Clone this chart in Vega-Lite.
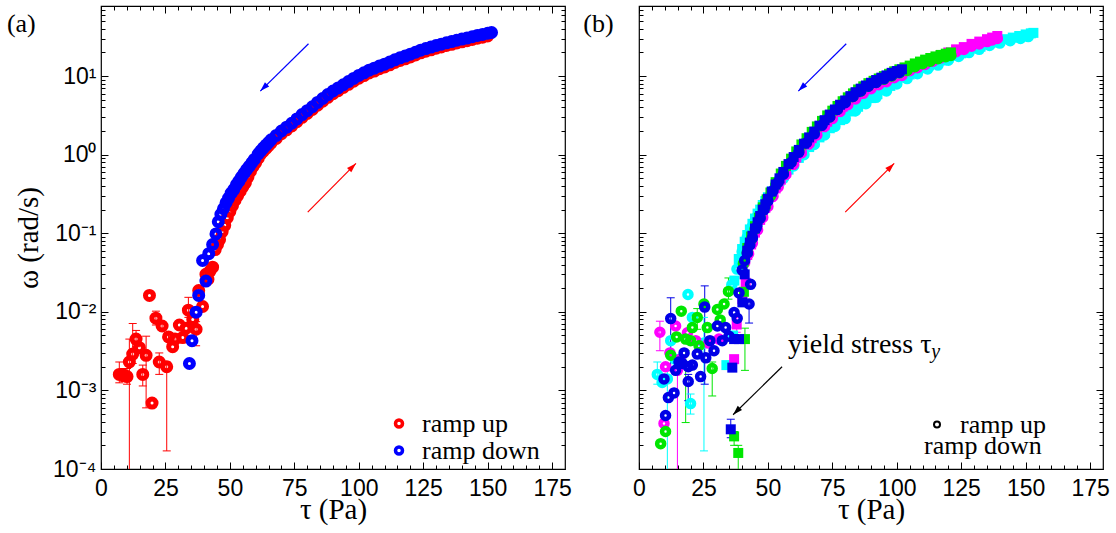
{
"$schema": "https://vega.github.io/schema/vega-lite/v6.json",
"background": "white",
"padding": {"left": 6, "top": 4, "right": 5, "bottom": 5},
"config": {
  "view": {"stroke": "black", "strokeWidth": 1.2},
  "axis": {"domain": false, "grid": false, "tickColor": "black", "tickWidth": 1, "labelFont": "Liberation Sans", "labelFontSize": 23, "labelColor": "black", "labelFlush": false, "labelOverlap": false, "titleFont": "Liberation Serif", "titleFontSize": 29, "titleFontWeight": "normal", "titleColor": "black"},
  "legend": {"labelFont": "Liberation Serif", "labelFontSize": 26, "labelColor": "black"}
},
"resolve": {"scale": {"color": "independent", "shape": "independent", "opacity": "independent", "size": "independent"}, "legend": {"color": "independent", "shape": "independent", "opacity": "independent", "size": "independent"}},
"datasets": {
  "ptsA": [
    {"t":7.1,"w":0.0016,"r":"u"},{"t":8.2,"w":0.0016,"r":"u"},{"t":9.0,"w":0.00155,"r":"u"},{"t":10.1,"w":0.0015,"r":"u"},{"t":11.0,"w":0.0023,"r":"u"},{"t":12.3,"w":0.0029,"r":"u"},{"t":13.6,"w":0.0045,"r":"u"},{"t":14.9,"w":0.0035,"r":"u"},{"t":16.2,"w":0.0016,"r":"u"},{"t":17.5,"w":0.0028,"r":"u"},{"t":18.8,"w":0.0162,"r":"u"},{"t":19.8,"w":0.00069,"r":"u"},{"t":21.3,"w":0.0083,"r":"u"},{"t":22.6,"w":0.0023,"r":"u"},{"t":23.7,"w":0.0066,"r":"u"},{"t":25.5,"w":0.0020,"r":"u"},{"t":26.2,"w":0.0048,"r":"u"},{"t":27.8,"w":0.0036,"r":"u"},{"t":28.7,"w":0.0045,"r":"u"},{"t":30.4,"w":0.0068,"r":"u"},{"t":31.7,"w":0.0047,"r":"u"},{"t":33.0,"w":0.0062,"r":"u"},{"t":33.9,"w":0.0105,"r":"u"},{"t":35.6,"w":0.0080,"r":"u"},{"t":36.9,"w":0.0060,"r":"u"},{"t":37.9,"w":0.0187,"r":"u"},{"t":39.4,"w":0.0117,"r":"u"},{"t":40.7,"w":0.030,"r":"u"},{"t":41.5,"w":0.026,"r":"u"},{"t":42.3,"w":0.033,"r":"u"},{"t":43.3,"w":0.037,"r":"u"},{"t":44.3,"w":0.062,"r":"u"},{"t":45.2,"w":0.072,"r":"u"},{"t":46,"w":0.083,"r":"u"},{"t":47,"w":0.105,"r":"u"},{"t":48,"w":0.126,"r":"u"},{"t":49,"w":0.158,"r":"u"},{"t":50,"w":0.19,"r":"u"},{"t":51,"w":0.224,"r":"u"},{"t":52,"w":0.263,"r":"u"},{"t":53,"w":0.302,"r":"u"},{"t":54,"w":0.343,"r":"u"},{"t":55,"w":0.389,"r":"u"},{"t":56,"w":0.437,"r":"u"},{"t":57,"w":0.519,"r":"u"},{"t":58,"w":0.617,"r":"u"},{"t":59,"w":0.71,"r":"u"},{"t":60,"w":0.794,"r":"u"},{"t":61,"w":0.90,"r":"u"},{"t":62,"w":1.02,"r":"u"},{"t":63,"w":1.11,"r":"u"},{"t":64,"w":1.20,"r":"u"},{"t":65,"w":1.30,"r":"u"},{"t":66,"w":1.41,"r":"u"},{"t":68,"w":1.61,"r":"u"},{"t":70,"w":1.85,"r":"u"},{"t":72,"w":2.07,"r":"u"},{"t":74,"w":2.32,"r":"u"},{"t":76,"w":2.63,"r":"u"},{"t":78,"w":2.99,"r":"u"},{"t":80,"w":3.35,"r":"u"},{"t":82,"w":3.76,"r":"u"},{"t":84,"w":4.26,"r":"u"},{"t":86,"w":4.79,"r":"u"},{"t":88,"w":5.37,"r":"u"},{"t":90,"w":5.96,"r":"u"},{"t":92,"w":6.53,"r":"u"},{"t":94,"w":7.16,"r":"u"},{"t":96,"w":7.85,"r":"u"},{"t":98,"w":8.61,"r":"u"},{"t":100,"w":9.41,"r":"u"},{"t":102,"w":10.15,"r":"u"},{"t":104,"w":10.98,"r":"u"},{"t":106,"w":11.6,"r":"u"},{"t":108,"w":12.4,"r":"u"},{"t":110,"w":13.1,"r":"u"},{"t":112,"w":13.9,"r":"u"},{"t":114,"w":14.9,"r":"u"},{"t":116,"w":15.8,"r":"u"},{"t":118,"w":16.6,"r":"u"},{"t":120,"w":17.5,"r":"u"},{"t":122,"w":18.6,"r":"u"},{"t":124,"w":19.8,"r":"u"},{"t":126,"w":20.7,"r":"u"},{"t":128,"w":21.6,"r":"u"},{"t":130,"w":22.6,"r":"u"},{"t":132,"w":23.5,"r":"u"},{"t":134,"w":24.5,"r":"u"},{"t":136,"w":25.4,"r":"u"},{"t":138,"w":26.4,"r":"u"},{"t":140,"w":27.3,"r":"u"},{"t":142,"w":28.2,"r":"u"},{"t":144,"w":29.3,"r":"u"},{"t":146,"w":30.4,"r":"u"},{"t":148,"w":31.3,"r":"u"},{"t":150,"w":32.4,"r":"u"},
    {"t":34.3,"w":0.0022,"r":"d"},{"t":35.3,"w":0.0043,"r":"d"},{"t":36.9,"w":0.0099,"r":"d"},{"t":37.9,"w":0.0162,"r":"d"},{"t":39.4,"w":0.045,"r":"d"},{"t":40.7,"w":0.0246,"r":"d"},{"t":41.8,"w":0.055,"r":"d"},{"t":43.3,"w":0.072,"r":"d"},{"t":44.6,"w":0.098,"r":"d"},{"t":45.5,"w":0.14,"r":"d"},{"t":46.5,"w":0.174,"r":"d"},{"t":47.5,"w":0.205,"r":"d"},{"t":48.5,"w":0.243,"r":"d"},{"t":49.5,"w":0.28,"r":"d"},{"t":50.5,"w":0.324,"r":"d"},{"t":51.5,"w":0.36,"r":"d"},{"t":52.5,"w":0.412,"r":"d"},{"t":53.5,"w":0.46,"r":"d"},{"t":54.5,"w":0.519,"r":"d"},{"t":55.5,"w":0.58,"r":"d"},{"t":56.5,"w":0.646,"r":"d"},{"t":57.5,"w":0.71,"r":"d"},{"t":58.5,"w":0.79,"r":"d"},{"t":59.5,"w":0.87,"r":"d"},{"t":61,"w":1.02,"r":"d"},{"t":62,"w":1.12,"r":"d"},{"t":63,"w":1.22,"r":"d"},{"t":64,"w":1.32,"r":"d"},{"t":65,"w":1.43,"r":"d"},{"t":66,"w":1.55,"r":"d"},{"t":68,"w":1.76,"r":"d"},{"t":70,"w":2.0,"r":"d"},{"t":72,"w":2.24,"r":"d"},{"t":74,"w":2.51,"r":"d"},{"t":76,"w":2.85,"r":"d"},{"t":78,"w":3.24,"r":"d"},{"t":80,"w":3.63,"r":"d"},{"t":82,"w":4.07,"r":"d"},{"t":84,"w":4.62,"r":"d"},{"t":86,"w":5.19,"r":"d"},{"t":88,"w":5.82,"r":"d"},{"t":90,"w":6.46,"r":"d"},{"t":92,"w":7.08,"r":"d"},{"t":94,"w":7.76,"r":"d"},{"t":96,"w":8.51,"r":"d"},{"t":98,"w":9.33,"r":"d"},{"t":100,"w":10.2,"r":"d"},{"t":102,"w":11.0,"r":"d"},{"t":104,"w":11.9,"r":"d"},{"t":106,"w":12.6,"r":"d"},{"t":108,"w":13.4,"r":"d"},{"t":110,"w":14.2,"r":"d"},{"t":112,"w":15.1,"r":"d"},{"t":114,"w":16.1,"r":"d"},{"t":116,"w":17.1,"r":"d"},{"t":118,"w":18.0,"r":"d"},{"t":120,"w":19.0,"r":"d"},{"t":122,"w":20.1,"r":"d"},{"t":124,"w":21.4,"r":"d"},{"t":126,"w":22.4,"r":"d"},{"t":128,"w":23.4,"r":"d"},{"t":130,"w":24.5,"r":"d"},{"t":132,"w":25.5,"r":"d"},{"t":134,"w":26.5,"r":"d"},{"t":136,"w":27.5,"r":"d"},{"t":138,"w":28.6,"r":"d"},{"t":140,"w":29.6,"r":"d"},{"t":142,"w":30.5,"r":"d"},{"t":144,"w":31.7,"r":"d"},{"t":146,"w":32.9,"r":"d"},{"t":148,"w":33.9,"r":"d"},{"t":150,"w":35.1,"r":"d"},{"t":151.5,"w":35.9,"r":"d"}
  ],
  "errA": [
    {"t":7.1,"lo":0.00125,"hi":0.0023},{"t":9.0,"lo":0.0013,"hi":0.0019},{"t":10.1,"lo":0.0012,"hi":0.0019},{"t":11.0,"lo":0.00001,"hi":0.0045},{"t":12.3,"lo":0.0022,"hi":0.0071},{"t":13.6,"lo":0.0036,"hi":0.0058},{"t":16.2,"lo":0.00114,"hi":0.0021},{"t":17.5,"lo":0.0006,"hi":0.0049},{"t":21.3,"lo":0.0068,"hi":0.0102},{"t":22.6,"lo":0.0016,"hi":0.0030},{"t":23.7,"lo":0.0058,"hi":0.0075},{"t":25.5,"lo":0.00017,"hi":0.0023},{"t":26.2,"lo":0.0042,"hi":0.0054},{"t":28.7,"lo":0.0040,"hi":0.0052},{"t":33.9,"lo":0.0085,"hi":0.0153},{"t":36.9,"lo":0.0037,"hi":0.0075}
  ],
  "arrA": [{"t":80.5,"w":25.8,"g":"d"},{"t":61.8,"w":6.45,"g":"d"},{"t":80.2,"w":0.186,"g":"u"},{"t":98.9,"w":0.774,"g":"u"}],
  "tipA": [{"t":61.8,"w":6.45,"g":"d"},{"t":98.9,"w":0.774,"g":"u"}],
  "labA": [{"t":-36.5,"w":36.3,"s":"(a)"}],
  "labB": [{"t":-21.6,"w":36.3,"s":"(b)"}],
  "ptsB": [
    {"t":19.0,"w":0.0166,"e":"c","r":"u"},{"t":7.1,"w":0.0016,"e":"c","r":"u"},{"t":20.0,"w":0.00068,"e":"c","r":"u"},{"t":12.3,"w":0.0043,"e":"c","r":"u"},{"t":20.7,"w":0.0085,"e":"c","r":"u"},{"t":11.0,"w":0.0014,"e":"c","r":"u"},{"t":25.2,"w":0.004,"e":"c","r":"u"},{"t":9.0,"w":0.00126,"e":"c","r":"u"},{"t":14.0,"w":0.0025,"e":"c","r":"u"},
    {"t":33.9,"w":0.0021,"e":"c","r":"d"},{"t":36.5,"w":0.005,"e":"c","r":"d"},
    {"t":36,"w":0.022,"e":"c","r":"u"},{"t":38,"w":0.035,"e":"c","r":"u"},{"t":40,"w":0.058,"e":"c","r":"u"},{"t":42,"w":0.089,"e":"c","r":"u"},{"t":44,"w":0.123,"e":"c","r":"u"},{"t":46,"w":0.166,"e":"c","r":"u"},{"t":48,"w":0.214,"e":"c","r":"u"},{"t":50,"w":0.269,"e":"c","r":"u"},{"t":53,"w":0.372,"e":"c","r":"u"},{"t":56,"w":0.50,"e":"c","r":"u"},{"t":60,"w":0.72,"e":"c","r":"u"},{"t":64,"w":1.0,"e":"c","r":"u"},{"t":68,"w":1.35,"e":"c","r":"u"},{"t":72,"w":1.78,"e":"c","r":"u"},{"t":76,"w":2.29,"e":"c","r":"u"},{"t":80,"w":2.88,"e":"c","r":"u"},{"t":84,"w":3.63,"e":"c","r":"u"},{"t":88,"w":4.46,"e":"c","r":"u"},{"t":92,"w":5.37,"e":"c","r":"u"},{"t":96,"w":6.47,"e":"c","r":"u"},{"t":100,"w":7.94,"e":"c","r":"u"},{"t":104,"w":9.3,"e":"c","r":"u"},{"t":108,"w":10.7,"e":"c","r":"u"},{"t":112,"w":12.3,"e":"c","r":"u"},{"t":116,"w":13.8,"e":"c","r":"u"},{"t":120,"w":15.9,"e":"c","r":"u"},{"t":124,"w":17.8,"e":"c","r":"u"},{"t":128,"w":19.9,"e":"c","r":"u"},{"t":132,"w":21.9,"e":"c","r":"u"},{"t":136,"w":24.5,"e":"c","r":"u"},{"t":140,"w":26.3,"e":"c","r":"u"},{"t":144,"w":28.2,"e":"c","r":"u"},{"t":148,"w":30.1,"e":"c","r":"u"},{"t":151,"w":31.8,"e":"c","r":"u"},
    {"t":37,"w":0.025,"e":"c","r":"d"},{"t":38.7,"w":0.047,"e":"c","r":"d"},{"t":40,"w":0.063,"e":"c","r":"d"},{"t":41,"w":0.078,"e":"c","r":"d"},{"t":42,"w":0.095,"e":"c","r":"d"},{"t":43,"w":0.112,"e":"c","r":"d"},{"t":44,"w":0.132,"e":"c","r":"d"},{"t":45,"w":0.154,"e":"c","r":"d"},{"t":46,"w":0.178,"e":"c","r":"d"},{"t":47,"w":0.2,"e":"c","r":"d"},{"t":48,"w":0.229,"e":"c","r":"d"},{"t":49,"w":0.257,"e":"c","r":"d"},{"t":50,"w":0.288,"e":"c","r":"d"},{"t":51.5,"w":0.34,"e":"c","r":"d"},{"t":53,"w":0.398,"e":"c","r":"d"},{"t":54.5,"w":0.46,"e":"c","r":"d"},{"t":56,"w":0.537,"e":"c","r":"d"},{"t":58,"w":0.646,"e":"c","r":"d"},{"t":60,"w":0.776,"e":"c","r":"d"},{"t":62,"w":0.91,"e":"c","r":"d"},{"t":64,"w":1.07,"e":"c","r":"d"},{"t":66,"w":1.25,"e":"c","r":"d"},{"t":68,"w":1.45,"e":"c","r":"d"},{"t":70,"w":1.66,"e":"c","r":"d"},{"t":72,"w":1.91,"e":"c","r":"d"},{"t":74,"w":2.17,"e":"c","r":"d"},{"t":76,"w":2.45,"e":"c","r":"d"},{"t":78,"w":2.75,"e":"c","r":"d"},{"t":80,"w":3.09,"e":"c","r":"d"},{"t":82.5,"w":3.55,"e":"c","r":"d"},{"t":85,"w":4.07,"e":"c","r":"d"},{"t":87.5,"w":4.62,"e":"c","r":"d"},{"t":90,"w":5.25,"e":"c","r":"d"},{"t":92.5,"w":5.89,"e":"c","r":"d"},{"t":95,"w":6.61,"e":"c","r":"d"},{"t":97.5,"w":7.5,"e":"c","r":"d"},{"t":100,"w":8.51,"e":"c","r":"d"},{"t":102.5,"w":9.55,"e":"c","r":"d"},{"t":105,"w":10.5,"e":"c","r":"d"},{"t":107.5,"w":11.5,"e":"c","r":"d"},{"t":110,"w":12.6,"e":"c","r":"d"},{"t":112.5,"w":13.7,"e":"c","r":"d"},{"t":115,"w":14.8,"e":"c","r":"d"},{"t":117.5,"w":15.8,"e":"c","r":"d"},{"t":120,"w":17.0,"e":"c","r":"d"},{"t":122.5,"w":18.2,"e":"c","r":"d"},{"t":125,"w":19.5,"e":"c","r":"d"},{"t":127.5,"w":20.9,"e":"c","r":"d"},{"t":130,"w":22.4,"e":"c","r":"d"},{"t":132.5,"w":23.7,"e":"c","r":"d"},{"t":135,"w":25.1,"e":"c","r":"d"},{"t":137.5,"w":26.7,"e":"c","r":"d"},{"t":140,"w":28.2,"e":"c","r":"d"},{"t":142.5,"w":29.5,"e":"c","r":"d"},{"t":145,"w":30.9,"e":"c","r":"d"},{"t":147.5,"w":32.4,"e":"c","r":"d"},{"t":150,"w":33.9,"e":"c","r":"d"},{"t":152,"w":35.0,"e":"c","r":"d"},{"t":153,"w":35.5,"e":"c","r":"d"},
    {"t":8.1,"w":0.0055,"e":"m","r":"u"},{"t":10.3,"w":0.0020,"e":"m","r":"u"},{"t":9.7,"w":0.00038,"e":"m","r":"u"},{"t":18.8,"w":0.0054,"e":"m","r":"u"},{"t":14.2,"w":0.0066,"e":"m","r":"u"},{"t":22.0,"w":0.0043,"e":"m","r":"u"},{"t":16.0,"w":0.0025,"e":"m","r":"u"},{"t":14.9,"w":0.0018,"e":"m","r":"u"},{"t":12.0,"w":0.003,"e":"m","r":"u"},{"t":27.0,"w":0.004,"e":"m","r":"u"},{"t":31.0,"w":0.0045,"e":"m","r":"u"},
    {"t":36.9,"w":0.0025,"e":"m","r":"d"},{"t":37.9,"w":0.0069,"e":"m","r":"d"},{"t":40.1,"w":0.0145,"e":"m","r":"d"},{"t":41.4,"w":0.0234,"e":"m","r":"d"},
    {"t":41,"w":0.042,"e":"m","r":"u"},{"t":42.5,"w":0.055,"e":"m","r":"u"},{"t":44,"w":0.075,"e":"m","r":"u"},{"t":46,"w":0.11,"e":"m","r":"u"},{"t":48,"w":0.159,"e":"m","r":"u"},{"t":50,"w":0.219,"e":"m","r":"u"},{"t":52,"w":0.296,"e":"m","r":"u"},{"t":54,"w":0.389,"e":"m","r":"u"},{"t":57,"w":0.559,"e":"m","r":"u"},{"t":60,"w":0.756,"e":"m","r":"u"},{"t":63,"w":1.05,"e":"m","r":"u"},{"t":66,"w":1.38,"e":"m","r":"u"},{"t":69,"w":1.78,"e":"m","r":"u"},{"t":72,"w":2.29,"e":"m","r":"u"},{"t":75,"w":2.88,"e":"m","r":"u"},{"t":78,"w":3.55,"e":"m","r":"u"},{"t":81,"w":4.32,"e":"m","r":"u"},{"t":84,"w":5.13,"e":"m","r":"u"},{"t":87,"w":6.03,"e":"m","r":"u"},{"t":90,"w":6.92,"e":"m","r":"u"},{"t":93,"w":7.76,"e":"m","r":"u"},{"t":96,"w":8.5,"e":"m","r":"u"},{"t":99,"w":9.55,"e":"m","r":"u"},{"t":102,"w":10.2,"e":"m","r":"u"},{"t":105,"w":11.7,"e":"m","r":"u"},{"t":108,"w":12.8,"e":"m","r":"u"},{"t":111,"w":14.1,"e":"m","r":"u"},{"t":114,"w":15.5,"e":"m","r":"u"},{"t":117,"w":17.0,"e":"m","r":"u"},{"t":120,"w":18.6,"e":"m","r":"u"},{"t":123,"w":20.4,"e":"m","r":"u"},{"t":126,"w":21.8,"e":"m","r":"u"},{"t":129,"w":24.0,"e":"m","r":"u"},{"t":132,"w":25.6,"e":"m","r":"u"},{"t":135,"w":27.5,"e":"m","r":"u"},{"t":137,"w":28.8,"e":"m","r":"u"},{"t":139,"w":30.1,"e":"m","r":"u"},
    {"t":42,"w":0.053,"e":"m","r":"d"},{"t":43.5,"w":0.072,"e":"m","r":"d"},{"t":45,"w":0.102,"e":"m","r":"d"},{"t":47,"w":0.148,"e":"m","r":"d"},{"t":49,"w":0.21,"e":"m","r":"d"},{"t":51,"w":0.29,"e":"m","r":"d"},{"t":53,"w":0.372,"e":"m","r":"d"},{"t":55,"w":0.48,"e":"m","r":"d"},{"t":57,"w":0.60,"e":"m","r":"d"},{"t":59,"w":0.74,"e":"m","r":"d"},{"t":61,"w":0.92,"e":"m","r":"d"},{"t":63,"w":1.12,"e":"m","r":"d"},{"t":65,"w":1.35,"e":"m","r":"d"},{"t":67,"w":1.62,"e":"m","r":"d"},{"t":69,"w":1.91,"e":"m","r":"d"},{"t":71,"w":2.24,"e":"m","r":"d"},{"t":73,"w":2.63,"e":"m","r":"d"},{"t":75,"w":3.09,"e":"m","r":"d"},{"t":77,"w":3.55,"e":"m","r":"d"},{"t":79,"w":4.07,"e":"m","r":"d"},{"t":81,"w":4.63,"e":"m","r":"d"},{"t":83,"w":5.25,"e":"m","r":"d"},{"t":85,"w":5.89,"e":"m","r":"d"},{"t":87,"w":6.46,"e":"m","r":"d"},{"t":89,"w":7.08,"e":"m","r":"d"},{"t":91,"w":7.76,"e":"m","r":"d"},{"t":93,"w":8.32,"e":"m","r":"d"},{"t":95,"w":8.91,"e":"m","r":"d"},{"t":97,"w":9.55,"e":"m","r":"d"},{"t":99,"w":10.0,"e":"m","r":"d"},{"t":102,"w":10.96,"e":"m","r":"d"},{"t":105,"w":12.6,"e":"m","r":"d"},{"t":108,"w":13.8,"e":"m","r":"d"},{"t":111,"w":15.1,"e":"m","r":"d"},{"t":114,"w":16.6,"e":"m","r":"d"},{"t":117,"w":18.2,"e":"m","r":"d"},{"t":120,"w":20.0,"e":"m","r":"d"},{"t":123,"w":21.9,"e":"m","r":"d"},{"t":126,"w":23.4,"e":"m","r":"d"},{"t":129,"w":25.7,"e":"m","r":"d"},{"t":132,"w":27.5,"e":"m","r":"d"},{"t":135,"w":29.5,"e":"m","r":"d"},{"t":137,"w":30.9,"e":"m","r":"d"},{"t":139,"w":32.4,"e":"m","r":"d"},
    {"t":8.4,"w":0.00021,"e":"g","r":"u"},{"t":10.3,"w":0.0003,"e":"g","r":"u"},{"t":16.4,"w":0.0102,"e":"g","r":"u"},{"t":25.2,"w":0.0126,"e":"g","r":"u"},{"t":30.4,"w":0.0107,"e":"g","r":"u"},{"t":33.0,"w":0.0126,"e":"g","r":"u"},{"t":34.7,"w":0.0182,"e":"g","r":"u"},{"t":20.7,"w":0.0063,"e":"g","r":"u"},{"t":22.6,"w":0.0085,"e":"g","r":"u"},{"t":26.5,"w":0.0063,"e":"g","r":"u"},{"t":14.6,"w":0.0048,"e":"g","r":"u"},{"t":18.1,"w":0.0045,"e":"g","r":"u"},{"t":20.0,"w":0.0043,"e":"g","r":"u"},{"t":23.3,"w":0.0037,"e":"g","r":"u"},{"t":12.3,"w":0.0028,"e":"g","r":"u"},{"t":28.4,"w":0.0019,"e":"g","r":"u"},{"t":31.5,"w":0.0079,"e":"g","r":"u"},
    {"t":36.9,"w":0.00026,"e":"g","r":"d"},{"t":38.5,"w":0.00016,"e":"g","r":"d"},{"t":41.1,"w":0.0045,"e":"g","r":"d"},{"t":40.7,"w":0.018,"e":"g","r":"d"},
    {"t":40.5,"w":0.041,"e":"g","r":"u"},{"t":42,"w":0.057,"e":"g","r":"u"},{"t":43.5,"w":0.083,"e":"g","r":"u"},{"t":45,"w":0.113,"e":"g","r":"u"},{"t":47,"w":0.161,"e":"g","r":"u"},{"t":49,"w":0.218,"e":"g","r":"u"},{"t":51,"w":0.298,"e":"g","r":"u"},{"t":53,"w":0.408,"e":"g","r":"u"},{"t":56,"w":0.585,"e":"g","r":"u"},{"t":59,"w":0.815,"e":"g","r":"u"},{"t":62,"w":1.13,"e":"g","r":"u"},{"t":65,"w":1.48,"e":"g","r":"u"},{"t":68,"w":1.95,"e":"g","r":"u"},{"t":71,"w":2.46,"e":"g","r":"u"},{"t":74,"w":3.02,"e":"g","r":"u"},{"t":77,"w":3.80,"e":"g","r":"u"},{"t":80,"w":4.67,"e":"g","r":"u"},{"t":83,"w":5.50,"e":"g","r":"u"},{"t":86,"w":6.45,"e":"g","r":"u"},{"t":89,"w":7.42,"e":"g","r":"u"},{"t":92,"w":8.31,"e":"g","r":"u"},{"t":95,"w":9.12,"e":"g","r":"u"},{"t":98,"w":10.0,"e":"g","r":"u"},{"t":101,"w":11.0,"e":"g","r":"u"},{"t":104,"w":11.8,"e":"g","r":"u"},{"t":107,"w":13.2,"e":"g","r":"u"},{"t":110,"w":14.4,"e":"g","r":"u"},{"t":113,"w":15.5,"e":"g","r":"u"},{"t":116,"w":16.6,"e":"g","r":"u"},{"t":119,"w":17.6,"e":"g","r":"u"},{"t":121,"w":18.3,"e":"g","r":"u"},
    {"t":42,"w":0.065,"e":"g","r":"d"},{"t":43.5,"w":0.091,"e":"g","r":"d"},{"t":45,"w":0.123,"e":"g","r":"d"},{"t":46.5,"w":0.158,"e":"g","r":"d"},{"t":48,"w":0.214,"e":"g","r":"d"},{"t":49.5,"w":0.27,"e":"g","r":"d"},{"t":51,"w":0.33,"e":"g","r":"d"},{"t":53,"w":0.447,"e":"g","r":"d"},{"t":55,"w":0.575,"e":"g","r":"d"},{"t":57,"w":0.72,"e":"g","r":"d"},{"t":59,"w":0.89,"e":"g","r":"d"},{"t":61,"w":1.10,"e":"g","r":"d"},{"t":63,"w":1.35,"e":"g","r":"d"},{"t":65,"w":1.62,"e":"g","r":"d"},{"t":67,"w":1.95,"e":"g","r":"d"},{"t":69,"w":2.29,"e":"g","r":"d"},{"t":71,"w":2.69,"e":"g","r":"d"},{"t":73,"w":3.16,"e":"g","r":"d"},{"t":75,"w":3.63,"e":"g","r":"d"},{"t":77,"w":4.17,"e":"g","r":"d"},{"t":79,"w":4.79,"e":"g","r":"d"},{"t":81,"w":5.37,"e":"g","r":"d"},{"t":83,"w":6.03,"e":"g","r":"d"},{"t":85,"w":6.76,"e":"g","r":"d"},{"t":87,"w":7.41,"e":"g","r":"d"},{"t":89,"w":8.13,"e":"g","r":"d"},{"t":91,"w":8.71,"e":"g","r":"d"},{"t":93,"w":9.33,"e":"g","r":"d"},{"t":95,"w":10.0,"e":"g","r":"d"},{"t":97,"w":10.7,"e":"g","r":"d"},{"t":99,"w":11.5,"e":"g","r":"d"},{"t":101,"w":12.2,"e":"g","r":"d"},{"t":103,"w":12.9,"e":"g","r":"d"},{"t":105,"w":13.6,"e":"g","r":"d"},{"t":107,"w":14.5,"e":"g","r":"d"},{"t":109,"w":15.3,"e":"g","r":"d"},{"t":111,"w":16.2,"e":"g","r":"d"},{"t":113,"w":17.0,"e":"g","r":"d"},{"t":115,"w":17.8,"e":"g","r":"d"},{"t":117,"w":18.6,"e":"g","r":"d"},{"t":119,"w":19.3,"e":"g","r":"d"},{"t":121,"w":20.0,"e":"g","r":"d"},
    {"t":12.3,"w":0.0082,"e":"b","r":"u"},{"t":25.5,"w":0.0115,"e":"b","r":"u"},{"t":30.4,"w":0.0066,"e":"b","r":"u"},{"t":27.5,"w":0.0043,"e":"b","r":"u"},{"t":17.5,"w":0.0030,"e":"b","r":"u"},{"t":15.5,"w":0.0023,"e":"b","r":"u"},{"t":19.1,"w":0.0020,"e":"b","r":"u"},{"t":9.7,"w":0.0014,"e":"b","r":"u"},{"t":11.4,"w":0.00081,"e":"b","r":"u"},{"t":13.6,"w":0.00093,"e":"b","r":"u"},{"t":10.3,"w":0.00048,"e":"b","r":"u"},{"t":19.1,"w":0.0013,"e":"b","r":"u"},{"t":23.9,"w":0.0015,"e":"b","r":"u"},{"t":20.7,"w":0.0021,"e":"b","r":"u"},{"t":25.9,"w":0.0026,"e":"b","r":"u"},{"t":29.1,"w":0.0032,"e":"b","r":"u"},{"t":32.3,"w":0.0043,"e":"b","r":"u"},{"t":34.9,"w":0.0049,"e":"b","r":"u"},{"t":38.1,"w":0.0083,"e":"b","r":"u"},{"t":38.8,"w":0.0174,"e":"b","r":"u"},{"t":42.7,"w":0.0126,"e":"b","r":"u"},{"t":36.9,"w":0.0098,"e":"b","r":"u"},{"t":33.6,"w":0.0063,"e":"b","r":"u"},{"t":22.6,"w":0.0029,"e":"b","r":"u"},{"t":14.2,"w":0.0018,"e":"b","r":"u"},{"t":16.8,"w":0.0022,"e":"b","r":"u"},{"t":43.3,"w":0.0224,"e":"b","r":"u"},
    {"t":36.2,"w":0.00195,"e":"b","r":"d"},{"t":35.6,"w":0.00032,"e":"b","r":"d"},{"t":36.9,"w":0.0045,"e":"b","r":"d"},{"t":38.8,"w":0.0045,"e":"b","r":"d"},{"t":40.1,"w":0.0132,"e":"b","r":"d"},{"t":41.0,"w":0.030,"e":"b","r":"d"},
    {"t":40,"w":0.034,"e":"b","r":"u"},{"t":41,"w":0.045,"e":"b","r":"u"},{"t":42,"w":0.056,"e":"b","r":"u"},{"t":43,"w":0.071,"e":"b","r":"u"},{"t":44,"w":0.087,"e":"b","r":"u"},{"t":45.5,"w":0.118,"e":"b","r":"u"},{"t":47,"w":0.155,"e":"b","r":"u"},{"t":48.5,"w":0.199,"e":"b","r":"u"},{"t":50,"w":0.257,"e":"b","r":"u"},{"t":52,"w":0.347,"e":"b","r":"u"},{"t":54,"w":0.447,"e":"b","r":"u"},{"t":56,"w":0.563,"e":"b","r":"u"},{"t":59,"w":0.794,"e":"b","r":"u"},{"t":62,"w":1.07,"e":"b","r":"u"},{"t":65,"w":1.42,"e":"b","r":"u"},{"t":68,"w":1.84,"e":"b","r":"u"},{"t":71,"w":2.37,"e":"b","r":"u"},{"t":74,"w":3.02,"e":"b","r":"u"},{"t":77,"w":3.76,"e":"b","r":"u"},{"t":80,"w":4.58,"e":"b","r":"u"},{"t":83,"w":5.5,"e":"b","r":"u"},{"t":86,"w":6.46,"e":"b","r":"u"},{"t":89,"w":7.42,"e":"b","r":"u"},{"t":92,"w":8.32,"e":"b","r":"u"},{"t":95,"w":9.23,"e":"b","r":"u"},{"t":98,"w":10.2,"e":"b","r":"u"},{"t":101,"w":11.1,"e":"b","r":"u"},
    {"t":42,"w":0.060,"e":"b","r":"d"},{"t":43,"w":0.076,"e":"b","r":"d"},{"t":44,"w":0.093,"e":"b","r":"d"},{"t":45,"w":0.115,"e":"b","r":"d"},{"t":46,"w":0.138,"e":"b","r":"d"},{"t":47,"w":0.166,"e":"b","r":"d"},{"t":48,"w":0.20,"e":"b","r":"d"},{"t":49,"w":0.234,"e":"b","r":"d"},{"t":50,"w":0.275,"e":"b","r":"d"},{"t":51.5,"w":0.339,"e":"b","r":"d"},{"t":53,"w":0.417,"e":"b","r":"d"},{"t":54.5,"w":0.50,"e":"b","r":"d"},{"t":56,"w":0.603,"e":"b","r":"d"},{"t":58,"w":0.759,"e":"b","r":"d"},{"t":60,"w":0.933,"e":"b","r":"d"},{"t":62,"w":1.15,"e":"b","r":"d"},{"t":64,"w":1.38,"e":"b","r":"d"},{"t":66,"w":1.66,"e":"b","r":"d"},{"t":68,"w":1.97,"e":"b","r":"d"},{"t":70,"w":2.34,"e":"b","r":"d"},{"t":72,"w":2.75,"e":"b","r":"d"},{"t":74,"w":3.24,"e":"b","r":"d"},{"t":76,"w":3.76,"e":"b","r":"d"},{"t":78,"w":4.32,"e":"b","r":"d"},{"t":80,"w":4.90,"e":"b","r":"d"},{"t":82,"w":5.56,"e":"b","r":"d"},{"t":84,"w":6.24,"e":"b","r":"d"},{"t":86,"w":6.92,"e":"b","r":"d"},{"t":88,"w":7.59,"e":"b","r":"d"},{"t":90,"w":8.22,"e":"b","r":"d"},{"t":92,"w":8.91,"e":"b","r":"d"},{"t":94,"w":9.55,"e":"b","r":"d"},{"t":96,"w":10.2,"e":"b","r":"d"},{"t":98,"w":11.0,"e":"b","r":"d"},{"t":100,"w":11.6,"e":"b","r":"d"},{"t":102,"w":12.2,"e":"b","r":"d"}
  ],
  "errB": [
    {"t":7.1,"lo":0.0012,"hi":0.0023,"e":"c"},{"t":11.0,"lo":0.00001,"hi":0.0019,"e":"c"},{"t":25.2,"lo":0.00017,"hi":0.0085,"e":"c"},{"t":20.0,"lo":0.0005,"hi":0.0009,"e":"c"},
    {"t":8.1,"lo":0.0032,"hi":0.0076,"e":"m"},{"t":14.9,"lo":0.00001,"hi":0.0022,"e":"m"},{"t":37.9,"lo":0.0055,"hi":0.0085,"e":"m"},
    {"t":34.7,"lo":0.0145,"hi":0.027,"e":"g"},{"t":18.1,"lo":0.00039,"hi":0.0032,"e":"g"},{"t":28.4,"lo":0.00085,"hi":0.0023,"e":"g"},{"t":36.9,"lo":0.0002,"hi":0.0003,"e":"g"},{"t":38.5,"lo":0.00001,"hi":0.0002,"e":"g"},{"t":41.1,"lo":0.0018,"hi":0.0062,"e":"g"},{"t":22.6,"lo":0.006,"hi":0.011,"e":"g"},
    {"t":12.3,"lo":0.00178,"hi":0.0151,"e":"b"},{"t":25.5,"lo":0.0012,"hi":0.0214,"e":"b"},{"t":19.1,"lo":0.00074,"hi":0.0016,"e":"b"},{"t":42.7,"lo":0.0072,"hi":0.0126,"e":"b"},{"t":35.6,"lo":0.00025,"hi":0.00043,"e":"b"}
  ],
  "arrB": [{"t":80.4,"w":25.8,"g":"d"},{"t":61.8,"w":6.45,"g":"d"},{"t":80.0,"w":0.186,"g":"u"},{"t":99.0,"w":0.774,"g":"u"},{"t":55.5,"w":0.0020,"g":"k"},{"t":36.5,"w":0.00049,"g":"k"}],
  "tipB": [{"t":61.8,"w":6.45,"g":"d"},{"t":99.0,"w":0.774,"g":"u"},{"t":36.5,"w":0.00049,"g":"k"}],
  "noteB": [{"t":85.6,"w":0.00299,"s":"yield stress τ"}],
  "subB": [{"t":113.4,"w":0.00257,"s":"y"}]
},
"hconcat": [
  {
    "width": 464, "height": 463,
    "resolve": {"axis": {"x": "independent", "y": "independent"}},
    "layer": [
      {
        "data": {"name": "errA"},
        "mark": {"type": "rule", "color": "#ff0000", "strokeWidth": 1, "clip": true},
        "encoding": {
          "x": {"field": "t", "type": "quantitative", "scale": {"domain": [0, 180], "nice": false},
                "axis": {"orient": "bottom", "values": [0,5,10,15,20,25,30,35,40,45,50,55,60,65,70,75,80,85,90,95,100,105,110,115,120,125,130,135,140,145,150,155,160,165,170,175],
                         "labelExpr": "datum.value % 25 === 0 ? datum.label : ''",
                         "labelFontSize": {"condition": {"test": "datum.value % 25 === 0", "value": 23}, "value": 0},
                         "tickSize": {"condition": {"test": "datum.value % 25 === 0", "value": -7}, "value": -4},
                         "labelPadding": 15, "title": "τ (Pa)", "titleBaseline": "alphabetic", "titleY": 49}},
          "y": {"field": "lo", "type": "quantitative", "scale": {"type": "log", "domain": [0.0001, 78], "nice": false},
                "axis": {"orient": "left", "values": [0.0001,0.0002,0.0003,0.0004,0.0005,0.0006,0.0007,0.0008,0.0009,0.001,0.002,0.003,0.004,0.005,0.006,0.007,0.008,0.009,0.01,0.02,0.03,0.04,0.05,0.06,0.07,0.08,0.09,0.1,0.2,0.3,0.4,0.5,0.6,0.7,0.8,0.9,1,2,3,4,5,6,7,8,9,10,20,30,40,50,60,70],
                         "labelExpr": "abs(log(datum.value)/LN10 - round(log(datum.value)/LN10)) < 0.01 ? ['10⁻⁴','10⁻³','10⁻²','10⁻¹','10⁰','10¹'][round(log(datum.value)/LN10)+4] : ''",
                         "labelFontSize": {"condition": {"test": "abs(log(datum.value)/LN10 - round(log(datum.value)/LN10)) < 0.01", "value": 23}, "value": 0},
                         "tickSize": {"condition": {"test": "abs(log(datum.value)/LN10 - round(log(datum.value)/LN10)) < 0.01", "value": -7}, "value": -4},
                         "labelPadding": 12, "title": "ω (rad/s)", "titleBaseline": "alphabetic", "titleAngle": 270, "titleX": -64}},
          "y2": {"field": "hi"}
        }
      },
      {
        "data": {"name": "errA"},
        "mark": {"type": "tick", "orient": "horizontal", "size": 8, "thickness": 1, "color": "#ff0000", "clip": true, "opacity": 1},
        "encoding": {"x": {"field": "t", "type": "quantitative", "axis": null}, "y": {"field": "lo", "type": "quantitative", "axis": null}}
      },
      {
        "data": {"name": "errA"},
        "mark": {"type": "tick", "orient": "horizontal", "size": 8, "thickness": 1, "color": "#ff0000", "clip": true, "opacity": 1},
        "encoding": {"x": {"field": "t", "type": "quantitative", "axis": null}, "y": {"field": "hi", "type": "quantitative", "axis": null}}
      },
      {
        "data": {"name": "ptsA"},
        "mark": {"type": "point", "filled": false, "size": 64, "strokeWidth": 5, "opacity": 1},
        "encoding": {
          "x": {"field": "t", "type": "quantitative", "axis": null},
          "y": {"field": "w", "type": "quantitative", "axis": null},
          "color": {"field": "r", "type": "nominal", "scale": {"domain": ["u", "d"], "range": ["#ff0000", "#0000ff"]},
                    "legend": {"orient": "none", "legendX": 285, "legendY": 407, "title": null, "padding": 0,
                               "labelExpr": "datum.label === 'u' ? 'ramp up' : 'ramp down'",
                               "symbolType": "circle", "symbolSize": 49, "symbolStrokeWidth": 3.5, "labelOffset": 10, "rowPadding": 0, "clipHeight": 21}}
        }
      },
      {
        "data": {"name": "arrA"},
        "transform": [{"filter": "datum.g === 'd'"}],
        "mark": {"type": "line", "color": "#0000ff", "strokeWidth": 1.2},
        "encoding": {
          "x": {"field": "t", "type": "quantitative",
                "axis": {"orient": "top", "values": [0,5,10,15,20,25,30,35,40,45,50,55,60,65,70,75,80,85,90,95,100,105,110,115,120,125,130,135,140,145,150,155,160,165,170,175], "labels": false, "title": null,
                         "tickSize": {"condition": {"test": "datum.value % 25 === 0", "value": -7}, "value": -4}}},
          "y": {"field": "w", "type": "quantitative",
                "axis": {"orient": "right", "values": [0.0001,0.0002,0.0003,0.0004,0.0005,0.0006,0.0007,0.0008,0.0009,0.001,0.002,0.003,0.004,0.005,0.006,0.007,0.008,0.009,0.01,0.02,0.03,0.04,0.05,0.06,0.07,0.08,0.09,0.1,0.2,0.3,0.4,0.5,0.6,0.7,0.8,0.9,1,2,3,4,5,6,7,8,9,10,20,30,40,50,60,70], "labels": false, "title": null,
                         "tickSize": {"condition": {"test": "abs(log(datum.value)/LN10 - round(log(datum.value)/LN10)) < 0.01", "value": -7}, "value": -4}}}
        }
      },
      {
        "data": {"name": "arrA"},
        "transform": [{"filter": "datum.g === 'u'"}],
        "mark": {"type": "line", "color": "#ff0000", "strokeWidth": 1.2},
        "encoding": {"x": {"field": "t", "type": "quantitative", "axis": null}, "y": {"field": "w", "type": "quantitative", "axis": null}}
      },
      {
        "data": {"name": "tipA"},
        "transform": [{"filter": "datum.g === 'd'"}],
        "mark": {"type": "point", "shape": "M0,0L0.55,1.75L-0.55,1.75Z", "filled": true, "size": 120, "angle": 225, "color": "#0000ff", "opacity": 1},
        "encoding": {"x": {"field": "t", "type": "quantitative", "axis": null}, "y": {"field": "w", "type": "quantitative", "axis": null}}
      },
      {
        "data": {"name": "tipA"},
        "transform": [{"filter": "datum.g === 'u'"}],
        "mark": {"type": "point", "shape": "M0,0L0.55,1.75L-0.55,1.75Z", "filled": true, "size": 120, "angle": 45, "color": "#ff0000", "opacity": 1},
        "encoding": {"x": {"field": "t", "type": "quantitative", "axis": null}, "y": {"field": "w", "type": "quantitative", "axis": null}}
      },
      {
        "data": {"name": "labA"},
        "mark": {"type": "text", "align": "left", "baseline": "alphabetic", "font": "Liberation Serif", "fontSize": 26, "color": "black"},
        "encoding": {"x": {"field": "t", "type": "quantitative", "axis": null}, "y": {"field": "w", "type": "quantitative", "axis": null}, "text": {"field": "s"}}
      }
    ]
  },
  {
    "width": 464, "height": 463,
    "resolve": {"axis": {"x": "independent", "y": "independent"}},
    "layer": [
      {
        "data": {"name": "errB"},
        "mark": {"type": "rule", "strokeWidth": 1, "clip": true},
        "encoding": {
          "x": {"field": "t", "type": "quantitative", "scale": {"domain": [0, 180], "nice": false},
                "axis": {"orient": "bottom", "values": [0,5,10,15,20,25,30,35,40,45,50,55,60,65,70,75,80,85,90,95,100,105,110,115,120,125,130,135,140,145,150,155,160,165,170,175],
                         "labelExpr": "datum.value % 25 === 0 ? datum.label : ''",
                         "labelFontSize": {"condition": {"test": "datum.value % 25 === 0", "value": 23}, "value": 0},
                         "tickSize": {"condition": {"test": "datum.value % 25 === 0", "value": -7}, "value": -4},
                         "labelPadding": 15, "title": "τ (Pa)", "titleBaseline": "alphabetic", "titleY": 49}},
          "y": {"field": "lo", "type": "quantitative", "scale": {"type": "log", "domain": [0.0001, 78], "nice": false},
                "axis": {"orient": "left", "values": [0.0001,0.0002,0.0003,0.0004,0.0005,0.0006,0.0007,0.0008,0.0009,0.001,0.002,0.003,0.004,0.005,0.006,0.007,0.008,0.009,0.01,0.02,0.03,0.04,0.05,0.06,0.07,0.08,0.09,0.1,0.2,0.3,0.4,0.5,0.6,0.7,0.8,0.9,1,2,3,4,5,6,7,8,9,10,20,30,40,50,60,70],
                         "labels": false, "title": null,
                         "tickSize": {"condition": {"test": "abs(log(datum.value)/LN10 - round(log(datum.value)/LN10)) < 0.01", "value": -7}, "value": -4}}},
          "y2": {"field": "hi"},
          "color": {"field": "e", "type": "nominal", "scale": {"domain": ["c", "m", "g", "b"], "range": ["#00ffff", "#ff00ff", "#00e600", "#0000e6"]}, "legend": null}
        }
      },
      {
        "data": {"name": "errB"},
        "mark": {"type": "tick", "orient": "horizontal", "size": 8, "thickness": 1, "clip": true, "opacity": 1},
        "encoding": {"x": {"field": "t", "type": "quantitative", "axis": null}, "y": {"field": "lo", "type": "quantitative", "axis": null},
                     "color": {"field": "e", "type": "nominal", "legend": null}}
      },
      {
        "data": {"name": "errB"},
        "mark": {"type": "tick", "orient": "horizontal", "size": 8, "thickness": 1, "clip": true, "opacity": 1},
        "encoding": {"x": {"field": "t", "type": "quantitative", "axis": null}, "y": {"field": "hi", "type": "quantitative", "axis": null},
                     "color": {"field": "e", "type": "nominal", "legend": null}}
      },
      {
        "mark": {"type": "rule", "color": "#444444", "strokeDash": [9, 6], "strokeWidth": 1.5},
        "encoding": {"x": {"datum": 35, "type": "quantitative", "axis": null}}
      },
      {
        "data": {"name": "ptsB"},
        "mark": {"type": "point", "filled": true, "opacity": 1},
        "encoding": {
          "x": {"field": "t", "type": "quantitative", "axis": null},
          "y": {"field": "w", "type": "quantitative", "axis": null},
          "shape": {"field": "r", "type": "nominal", "scale": {"domain": ["u", "d"], "range": ["circle", "square"]}, "legend": null},
          "stroke": {"field": "e", "type": "nominal", "scale": {"domain": ["c", "m", "g", "b"], "range": ["#00ffff", "#ff00ff", "#00e600", "#0000e6"]}, "legend": null},
          "fill": {"field": "e", "type": "nominal", "scale": {"domain": ["c", "m", "g", "b"], "range": ["#00ffff", "#ff00ff", "#00e600", "#0000e6"]}, "legend": null,
                   "condition": {"test": "datum.r === 'u'", "value": "transparent"}},
          "strokeWidth": {"condition": {"test": "datum.r === 'u'", "value": 4.5}, "value": 0},
          "size": {"condition": {"test": "datum.r === 'u'", "value": 49}, "value": 100}
        }
      },
      {
        "data": {"name": "noteB"},
        "transform": [{"filter": "false"}],
        "mark": {"type": "point", "shape": "circle", "filled": false, "color": "black", "strokeWidth": 2, "size": 36, "opacity": 1},
        "encoding": {
          "x": {"field": "t", "type": "quantitative", "axis": null},
          "y": {"field": "w", "type": "quantitative", "axis": null},
          "opacity": {"field": "s", "type": "ordinal", "scale": {"domain": ["u"], "range": [1]},
                      "legend": {"orient": "none", "legendX": 285, "legendY": 408, "title": null, "padding": 0,
                                 "labelExpr": "'ramp up'", "labelOffset": 10, "clipHeight": 21,
                                 "symbolType": "circle", "symbolSize": 36, "symbolStrokeWidth": 2, "symbolStrokeColor": "black", "symbolFillColor": "transparent"}}
        }
      },
      {
        "data": {"name": "subB"},
        "transform": [{"filter": "false"}],
        "mark": {"type": "point", "shape": "square", "filled": true, "color": "black", "opacity": 1},
        "encoding": {
          "x": {"field": "t", "type": "quantitative", "axis": null},
          "y": {"field": "w", "type": "quantitative", "axis": null},
          "size": {"field": "r", "type": "ordinal", "scale": {"domain": ["d"], "range": [81]},
                   "legend": {"orient": "none", "legendX": 285, "legendY": 429, "title": null, "padding": 0,
                              "labelExpr": "'ramp down'", "labelOffset": 10, "clipHeight": 21,
                              "symbolType": "square", "symbolStrokeWidth": 0, "symbolFillColor": "black"}}
        }
      },
      {
        "data": {"name": "arrB"},
        "transform": [{"filter": "datum.g === 'd'"}],
        "mark": {"type": "line", "color": "#0000ff", "strokeWidth": 1.2},
        "encoding": {
          "x": {"field": "t", "type": "quantitative",
                "axis": {"orient": "top", "values": [0,5,10,15,20,25,30,35,40,45,50,55,60,65,70,75,80,85,90,95,100,105,110,115,120,125,130,135,140,145,150,155,160,165,170,175], "labels": false, "title": null,
                         "tickSize": {"condition": {"test": "datum.value % 25 === 0", "value": -7}, "value": -4}}},
          "y": {"field": "w", "type": "quantitative",
                "axis": {"orient": "right", "values": [0.0001,0.0002,0.0003,0.0004,0.0005,0.0006,0.0007,0.0008,0.0009,0.001,0.002,0.003,0.004,0.005,0.006,0.007,0.008,0.009,0.01,0.02,0.03,0.04,0.05,0.06,0.07,0.08,0.09,0.1,0.2,0.3,0.4,0.5,0.6,0.7,0.8,0.9,1,2,3,4,5,6,7,8,9,10,20,30,40,50,60,70], "labels": false, "title": null,
                         "tickSize": {"condition": {"test": "abs(log(datum.value)/LN10 - round(log(datum.value)/LN10)) < 0.01", "value": -7}, "value": -4}}}
        }
      },
      {
        "data": {"name": "arrB"},
        "transform": [{"filter": "datum.g === 'u'"}],
        "mark": {"type": "line", "color": "#ff0000", "strokeWidth": 1.2},
        "encoding": {"x": {"field": "t", "type": "quantitative", "axis": null}, "y": {"field": "w", "type": "quantitative", "axis": null}}
      },
      {
        "data": {"name": "arrB"},
        "transform": [{"filter": "datum.g === 'k'"}],
        "mark": {"type": "line", "color": "#000000", "strokeWidth": 1.2},
        "encoding": {"x": {"field": "t", "type": "quantitative", "axis": null}, "y": {"field": "w", "type": "quantitative", "axis": null}}
      },
      {
        "data": {"name": "tipB"},
        "transform": [{"filter": "datum.g === 'd'"}],
        "mark": {"type": "point", "shape": "M0,0L0.55,1.75L-0.55,1.75Z", "filled": true, "size": 120, "angle": 225, "color": "#0000ff", "opacity": 1},
        "encoding": {"x": {"field": "t", "type": "quantitative", "axis": null}, "y": {"field": "w", "type": "quantitative", "axis": null}}
      },
      {
        "data": {"name": "tipB"},
        "transform": [{"filter": "datum.g === 'u'"}],
        "mark": {"type": "point", "shape": "M0,0L0.55,1.75L-0.55,1.75Z", "filled": true, "size": 120, "angle": 45, "color": "#ff0000", "opacity": 1},
        "encoding": {"x": {"field": "t", "type": "quantitative", "axis": null}, "y": {"field": "w", "type": "quantitative", "axis": null}}
      },
      {
        "data": {"name": "tipB"},
        "transform": [{"filter": "datum.g === 'k'"}],
        "mark": {"type": "point", "shape": "M0,0L0.55,1.75L-0.55,1.75Z", "filled": true, "size": 120, "angle": 225, "color": "#000000", "opacity": 1},
        "encoding": {"x": {"field": "t", "type": "quantitative", "axis": null}, "y": {"field": "w", "type": "quantitative", "axis": null}}
      },
      {
        "data": {"name": "noteB"},
        "mark": {"type": "text", "align": "center", "baseline": "alphabetic", "font": "Liberation Serif", "fontSize": 28, "color": "black"},
        "encoding": {"x": {"field": "t", "type": "quantitative", "axis": null}, "y": {"field": "w", "type": "quantitative", "axis": null}, "text": {"field": "s"}}
      },
      {
        "data": {"name": "subB"},
        "mark": {"type": "text", "align": "left", "baseline": "alphabetic", "font": "Liberation Serif", "fontSize": 20, "fontStyle": "italic", "color": "black"},
        "encoding": {"x": {"field": "t", "type": "quantitative", "axis": null}, "y": {"field": "w", "type": "quantitative", "axis": null}, "text": {"field": "s"}}
      },
      {
        "data": {"name": "labB"},
        "mark": {"type": "text", "align": "left", "baseline": "alphabetic", "font": "Liberation Serif", "fontSize": 26, "color": "black"},
        "encoding": {"x": {"field": "t", "type": "quantitative", "axis": null}, "y": {"field": "w", "type": "quantitative", "axis": null}, "text": {"field": "s"}}
      }
    ]
  }
],
"spacing": 74,
"bounds": "flush"
}
